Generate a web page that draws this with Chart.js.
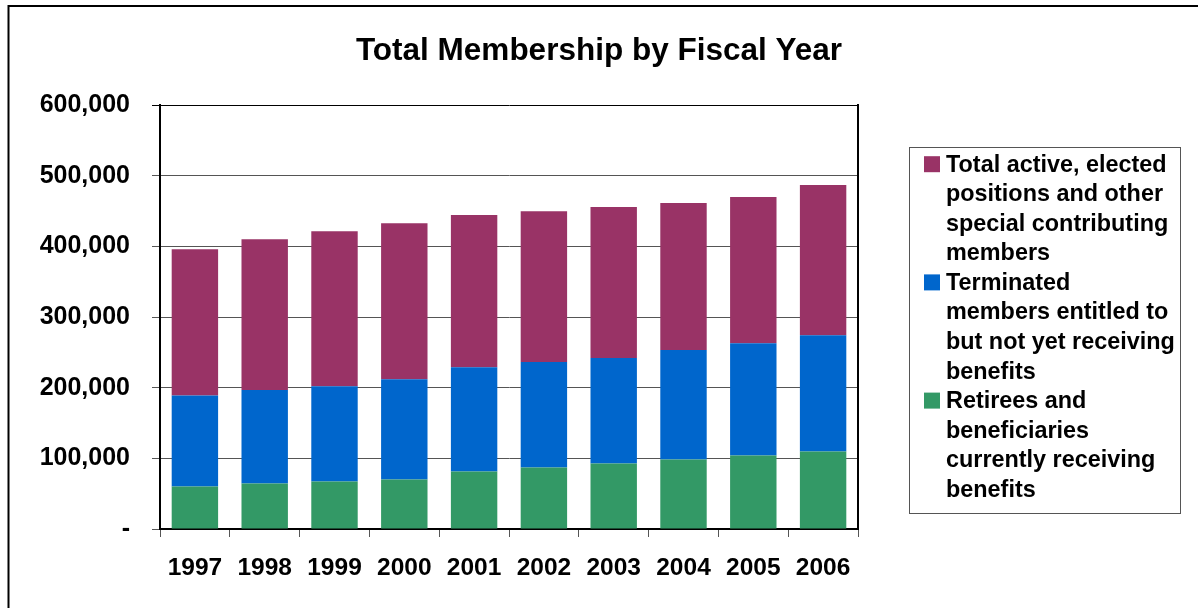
<!DOCTYPE html>
<html>
<head>
<meta charset="utf-8">
<script src="https://cdn.jsdelivr.net/npm/chart.js@4/dist/chart.umd.min.js"></script>
<style>
html,body{margin:0;padding:0;background:#fff;overflow:hidden}
#wrap{width:1198px;height:608px;position:relative}
</style>
</head>
<body>
<div id="wrap"><canvas id="c" width="1198" height="608"></canvas></div>
<script>
// ---- data ----
const years = ['1997','1998','1999','2000','2001','2002','2003','2004','2005','2006'];
const retirees   = [60200, 64500, 67300, 70100, 81500, 87100, 92800, 98500, 104100, 109800];
const terminated = [128800, 132200, 134600, 141700, 147300, 149200, 149200, 154800, 158700, 164400];
const active     = [207000, 213300, 219600, 221000, 215400, 213500, 213500, 207900, 206900, 212500];
const yTickValues = [0, 100000, 200000, 300000, 400000, 500000, 600000];
const chartTitle = 'Total Membership by Fiscal Year';
const seriesNames = [
  'Retirees and beneficiaries currently receiving benefits',
  'Terminated members entitled to but not yet receiving benefits',
  'Total active, elected positions and other special contributing members'
];
const legendLines = [
  ['Total active, elected', 'positions and other', 'special contributing', 'members'],
  ['Terminated', 'members entitled to', 'but not yet receiving', 'benefits'],
  ['Retirees and', 'beneficiaries', 'currently receiving', 'benefits']
];
const colors = ['#339966', '#0066CC', '#993366'];

const FAMILY = '"Liberation Sans", Arial, Helvetica, sans-serif';

const frame = {
  id: 'frame',
  beforeDraw(chart) {
    const ctx = chart.ctx;
    ctx.save();
    ctx.fillStyle = '#fff';
    ctx.fillRect(0, 0, chart.width, chart.height);
    ctx.strokeStyle = '#000';
    ctx.lineWidth = 2;
    ctx.strokeRect(8.5, 6, 1400, 800);
    ctx.restore();
  }
};

const sideLegend = {
  id: 'sideLegend',
  afterDraw(chart) {
    const ctx = chart.ctx;
    ctx.save();
    ctx.strokeStyle = '#555';
    ctx.lineWidth = 1;
    ctx.strokeRect(909.5, 147.5, 271, 366);
    ctx.font = 'bold 23.4px ' + FAMILY;
    ctx.textAlign = 'left';
    ctx.textBaseline = 'alphabetic';
    const order = [2, 1, 0];
    const step = 29.55;
    let line = 0;
    order.forEach((dsIndex, k) => {
      const ds = chart.data.datasets[dsIndex];
      const base = 171.7 + line * step;
      ctx.fillStyle = ds.backgroundColor;
      ctx.fillRect(924, base - 15.5, 16, 16);
      ctx.fillStyle = '#000';
      legendLines[k].forEach((t, j) => {
        ctx.fillText(t, 946, 171.7 + (line + j) * step);
      });
      line += legendLines[k].length;
    });
    ctx.restore();
  }
};

new Chart(document.getElementById('c'), {
  type: 'bar',
  data: {
    labels: years,
    datasets: [
      { label: seriesNames[0], data: retirees, backgroundColor: colors[0] },
      { label: seriesNames[1], data: terminated, backgroundColor: colors[1] },
      { label: seriesNames[2], data: active, backgroundColor: colors[2] }
    ]
  },
  options: {
    responsive: false,
    animation: false,
    devicePixelRatio: 1,
    layout: { padding: 0 },
    datasets: { bar: { barPercentage: 0.665, categoryPercentage: 1, borderWidth: 0 } },
    plugins: {
      legend: { display: false },
      tooltip: { enabled: false },
      title: {
        display: true,
        text: chartTitle,
        color: '#000',
        font: { family: FAMILY, size: 31.5, weight: 'bold', lineHeight: 1.2 },
        padding: { top: 32, bottom: 35.2 }
      }
    },
    scales: {
      x: {
        stacked: true,
        offset: true,
        grid: { display: true, drawOnChartArea: false, drawTicks: true, tickLength: 8, color: '#555', offset: true },
        border: { display: true, color: '#000', width: 2 },
        ticks: { color: '#000', font: { family: FAMILY, size: 24.5, weight: 'bold' }, padding: 17, maxRotation: 0, autoSkip: false },
        afterFit(s) { s.height = 79; }
      },
      y: {
        stacked: true,
        min: 0,
        max: 600000,
        afterBuildTicks(s) { s.ticks = yTickValues.map(v => ({ value: v })); },
        ticks: {
          color: '#000',
          font: { family: FAMILY, size: 25, weight: 'bold' },
          padding: 22,
          callback: v => v === 0 ? '-' : Number(v).toLocaleString('en-US')
        },
        grid: {
          color: c => (c.tick && c.tick.value === 600000) ? '#000' : '#555',
          lineWidth: 1,
          tickLength: 8
        },
        border: { display: true, color: '#000', width: 2 },
        afterFit(s) { s.width = 160; }
      },
      y2: {
        position: 'right',
        display: true,
        grid: { display: false, drawOnChartArea: false },
        ticks: { display: false },
        border: { display: true, color: '#000', width: 2 },
        afterFit(s) { s.width = 340; }
      }
    }
  },
  plugins: [frame, sideLegend]
});
</script>
</body>
</html>
